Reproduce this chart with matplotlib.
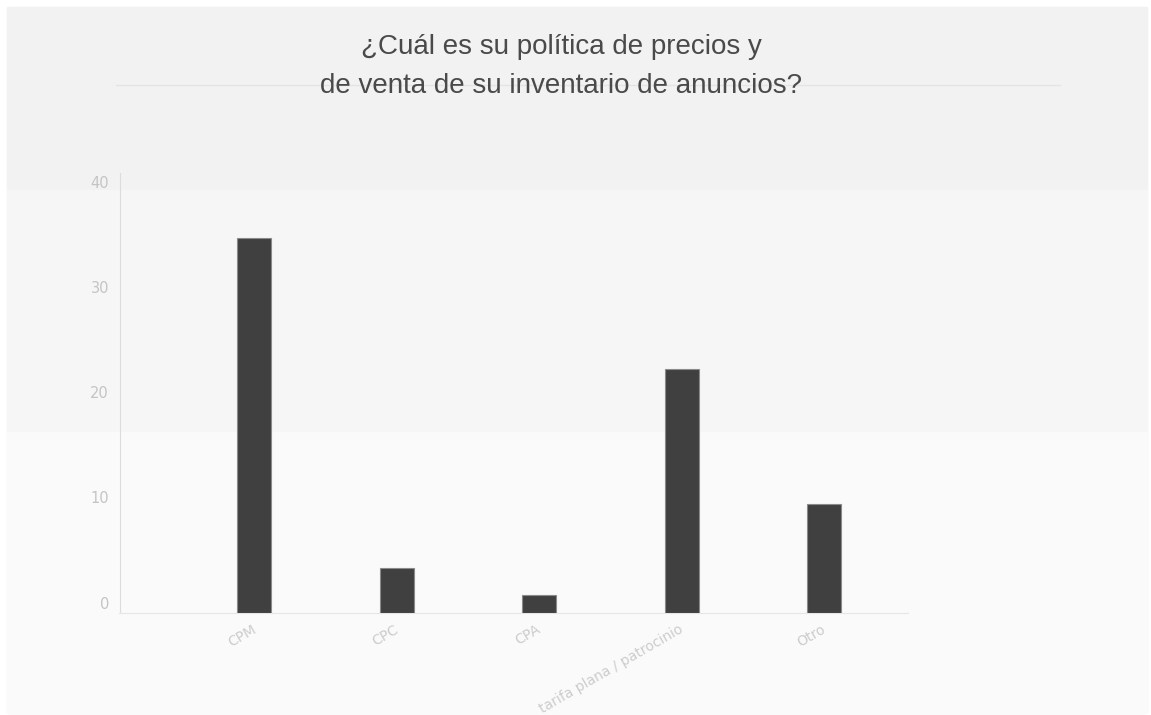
import matplotlib.pyplot as plt
from matplotlib.patches import Rectangle, FancyBboxPatch
from matplotlib.transforms import ScaledTranslation

# datos
categorias = ['CPM', 'CPC', 'CPA', 'tarifa plana / patrocinio', 'Otro']
valores = [35.6, 4.2, 1.7, 23.1, 10.3]
y_ticks = [0, 10, 20, 30, 40]
titulo = ['¿Cuál es su política de precios y', 'de venta de su inventario de anuncios?']

W, H = 1151, 715
fig = plt.figure(figsize=(W / 100, H / 100), dpi=100, facecolor='white')

# fondo en franjas
fig.patches.append(FancyBboxPatch((6 / W, 0), (W - 8) / W, (H - 6) / H,
                                  boxstyle='round,pad=0,rounding_size=0.006',
                                  transform=fig.transFigure, facecolor='#fafafa',
                                  edgecolor='none', zorder=-3))
fig.patches.append(Rectangle((7 / W, 1 - 190 / H), (W - 10) / W, (190 - 7) / H,
                             transform=fig.transFigure, facecolor='#f2f2f2',
                             edgecolor='none', zorder=-2))
fig.patches.append(Rectangle((7 / W, 1 - 432 / H), (W - 10) / W, (432 - 190) / H,
                             transform=fig.transFigure, facecolor='#f6f6f6',
                             edgecolor='none', zorder=-2))
fig.lines.append(plt.Line2D([116 / W, 1060 / W], [1 - 85 / H, 1 - 85 / H],
                            transform=fig.transFigure, color='#e4e4e4', lw=1, zorder=-1))

# titulo
fig.text(561 / W, 1 - 47 / H, titulo[0], ha='center', va='center', fontsize=20,
         color='#4a4a4a', family='Liberation Sans', zorder=2)
fig.text(561 / W, 1 - 86 / H, titulo[1], ha='center', va='center', fontsize=20,
         color='#4a4a4a', family='Liberation Sans', zorder=2)

ax = fig.add_axes([119.5 / W, 1 - 612.7 / H, (908 - 119.5) / W, (612.7 - 173) / H])
ax.set_facecolor('none')
ax.set_zorder(1)

x = list(range(len(categorias)))
ax.bar(x, valores, width=0.239, color='#404040', edgecolor='#8a8a8a', linewidth=0.8, zorder=3)

ax.set_xlim(-0.947, 4.59)
ax.set_ylim(0, 41.76)

for s in ['top', 'right']:
    ax.spines[s].set_visible(False)
ax.spines['left'].set_color('#dcdcdc')
ax.spines['bottom'].set_color('#e6e6e6')

ax.set_yticks(y_ticks)
ax.set_yticklabels([str(v) for v in y_ticks], fontsize=10.5, color='#c4c4c4', family='DejaVu Sans')
ax.tick_params(axis='y', length=0, pad=7.5)
off = ScaledTranslation(0, 10 / 100, fig.dpi_scale_trans)
for lbl in ax.get_yticklabels():
    lbl.set_transform(lbl.get_transform() + off)

ax.set_xticks(x)
ax.set_xticklabels(categorias, rotation=30, ha='right', rotation_mode='anchor',
                   fontsize=10, color='#cccccc', family='DejaVu Sans')
ax.tick_params(axis='x', length=0, pad=7)
off_x = ScaledTranslation(-3 / 100, 0, fig.dpi_scale_trans)
for lbl in ax.get_xticklabels():
    lbl.set_transform(lbl.get_transform() + off_x)

fig.savefig('out.png', dpi=100, facecolor='white')
